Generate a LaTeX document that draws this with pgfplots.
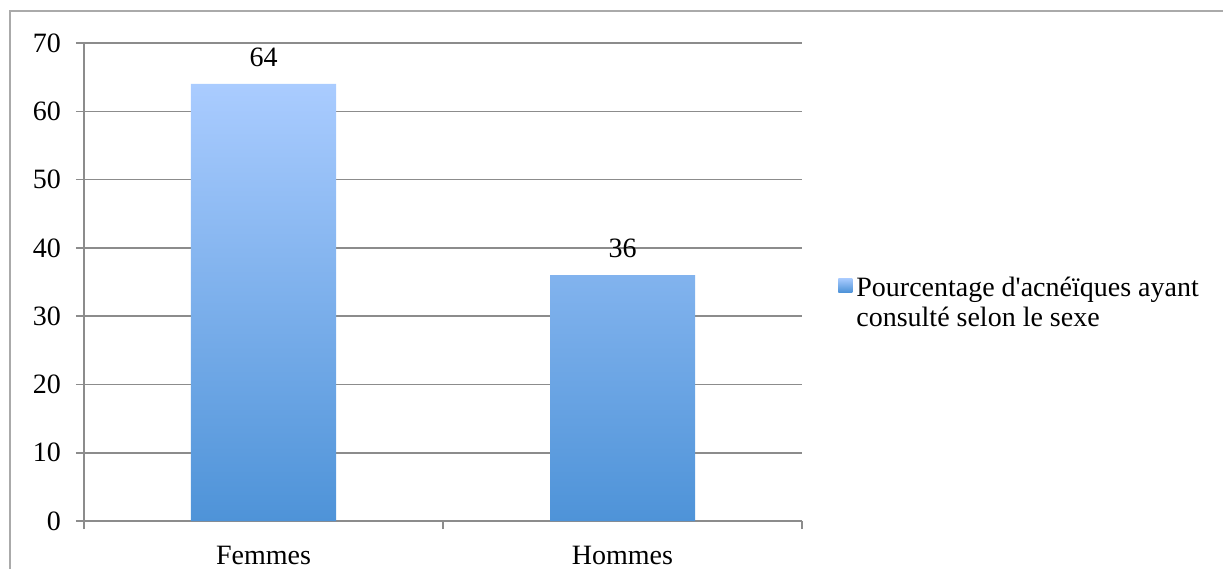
\documentclass[border=0pt]{standalone}
\usepackage{fontspec}
\setmainfont{Liberation Serif}
\newfontfamily\lib{Liberation Serif}
\usepackage{pgfplots}
\pgfplotsset{compat=1.18}
\definecolor{gridc}{RGB}{140,140,140}
\definecolor{bartop}{RGB}{170,204,255}
\definecolor{barbot}{RGB}{78,147,216}
\definecolor{framec}{RGB}{170,170,170}
\begin{document}
\begin{tikzpicture}[font=\lib\fontsize{14}{15}\selectfont]
\useasboundingbox (0,0) rectangle (611.5pt,284.5pt);
\draw[framec, line width=0.7pt] (5pt,0) -- (5pt,279pt) -- (611.5pt,279pt);
\begin{axis}[
  at={(42pt,24pt)}, anchor=south west,
  width=359pt, height=239pt, scale only axis,
  xmin=-0.5, xmax=1.5, ymin=0, ymax=70,
  ytick={0,10,...,70},
  axis x line*=bottom, axis y line*=left,
  axis line style={gridc, line width=0.8pt, -},
  ymajorgrids, major grid style={gridc, line width=0.8pt},
  tick align=outside, major tick length=4pt,
  tick style={gridc, line width=0.8pt},
  yticklabel style={xshift=-4pt},
  xtick={-0.5,0.5,1.5}, xticklabels={},
  extra x ticks={0,1}, extra x tick labels={Femmes,Hommes},
  extra x tick style={major tick length=0pt, grid=none, xticklabel style={yshift=-9pt}},
  /pgf/number format/assume math mode=true,
  legend style={draw=none, fill=none, at={(1.0501,0.52)}, anchor=north west,
    legend cell align=left, cells={align=left}, inner sep=0pt},
  legend image code/.code={\shade[top color=bartop,bottom color=barbot] (0pt,5.5pt) rectangle (7pt,12.5pt);},
]
\addplot[ybar, bar width=72.5pt, draw=none, top color=bartop, bottom color=barbot,
  nodes near coords, nodes near coords style={anchor=south, yshift=5pt, text=black}]
  coordinates {(0,64) (1,36)};
\addlegendentry{Pourcentage d'acnéïques ayant\\consulté selon le sexe}
\end{axis}
\end{tikzpicture}
\end{document}
